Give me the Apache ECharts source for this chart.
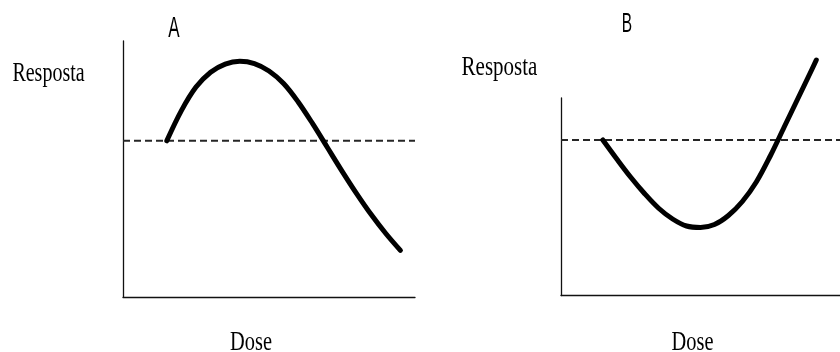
<!DOCTYPE html>
<html>
<head>
<meta charset="utf-8">
<script src="https://cdn.jsdelivr.net/npm/echarts@6/dist/echarts.min.js"></script>
<style>
  html, body { margin: 0; padding: 0; background: #fff; }
  #chart { width: 840px; height: 352px; }
</style>
</head>
<body>
<div id="chart"></div>
<script>
// Panel A: response rises above control, then falls below it (inverted U)
const doseA = [1.5, 2.0, 2.5, 3.0, 3.5, 4.0, 4.5, 5.0, 5.5, 6.0, 6.5, 7.0, 7.5, 8.0, 8.5, 9.0, 9.5];
const respA = [0, 1.18, 2.1, 2.68, 3.0, 3.11, 3.02, 2.73, 2.24, 1.52, 0.66, -0.26, -1.18, -2.06, -2.88, -3.62, -4.28];

// Panel B: response dips below control, then rises above it (U shape)
const doseB = [1.5, 2.0, 2.5, 3.0, 3.5, 4.0, 4.5, 5.0, 5.5, 6.0, 6.5, 7.0, 7.5, 8.0, 8.5, 9.0, 9.15];
const respB = [0, -0.76, -1.49, -2.15, -2.73, -3.16, -3.44, -3.5, -3.38, -3.02, -2.46, -1.68, -0.64, 0.52, 1.68, 2.84, 3.2];

// Control level (dashed reference line) across the dose range
const controlDose = [0, 10];
const controlResp = [0, 0];

// Text labels
const panelTitles = ['A', 'B'];
const yName = 'Resposta';
const xName = 'Dose';

const zip = (xs, ys) => xs.map((x, i) => [x, ys[i]]);

const axisLine = { show: true, onZero: false, lineStyle: { color: '#111', width: 1.3 } };
const hiddenParts = {
  axisTick: { show: false },
  axisLabel: { show: false },
  splitLine: { show: false }
};

const curveStyle = { color: '#000', width: 5, cap: 'round', join: 'round' };
const dashStyle = { color: '#262626', width: 2, type: [7, 4] };

const serif = '"Liberation Serif", "Times New Roman", serif';
const sans = '"Liberation Sans", Arial, sans-serif';

function label(text, x, y, size, family, sy) {
  return {
    type: 'text',
    x: x, y: y,
    scaleY: sy,
    style: {
      text: text,
      font: size + 'px ' + family,
      fill: '#000',
      textAlign: 'center',
      textVerticalAlign: 'middle'
    }
  };
}

const chart = echarts.init(document.getElementById('chart'), null, { renderer: 'canvas' });

chart.setOption({
  animation: false,
  backgroundColor: '#fff',
  grid: [
    { left: 123, top: 41, width: 292, height: 256 },
    { left: 561, top: 98, width: 279, height: 197.5 }
  ],
  xAxis: [
    Object.assign({ type: 'value', gridIndex: 0, min: 0, max: 10, axisLine: axisLine }, hiddenParts),
    Object.assign({ type: 'value', gridIndex: 1, min: 0, max: 10, axisLine: axisLine }, hiddenParts)
  ],
  yAxis: [
    Object.assign({ type: 'value', gridIndex: 0, min: -6.1, max: 3.9, axisLine: axisLine }, hiddenParts),
    Object.assign({ type: 'value', gridIndex: 1, min: -6.22, max: 1.68, axisLine: axisLine }, hiddenParts)
  ],
  series: [
    {
      type: 'line', xAxisIndex: 0, yAxisIndex: 0,
      data: zip(controlDose, controlResp),
      showSymbol: false, lineStyle: dashStyle, silent: true
    },
    {
      type: 'line', xAxisIndex: 0, yAxisIndex: 0,
      data: zip(doseA, respA),
      smooth: 0.35, showSymbol: false, lineStyle: curveStyle, clip: false
    },
    {
      type: 'line', xAxisIndex: 1, yAxisIndex: 1,
      data: zip(controlDose, controlResp),
      showSymbol: false, lineStyle: dashStyle, silent: true
    },
    {
      type: 'line', xAxisIndex: 1, yAxisIndex: 1,
      data: zip(doseB, respB),
      smooth: 0.35, showSymbol: false, lineStyle: curveStyle, clip: false
    }
  ],
  graphic: [
    label(panelTitles[0], 174, 28.5, 17, sans, 1.75),
    label(panelTitles[1], 627, 25, 15.5, sans, 1.75),
    label(yName, 48.5, 73.5, 20, serif, 1.38),
    label(yName, 499.5, 67.5, 21, serif, 1.34),
    label(xName, 251, 342.5, 20.4, serif, 1.33),
    label(xName, 692.5, 343, 20.4, serif, 1.33)
  ]
});
</script>
</body>
</html>
